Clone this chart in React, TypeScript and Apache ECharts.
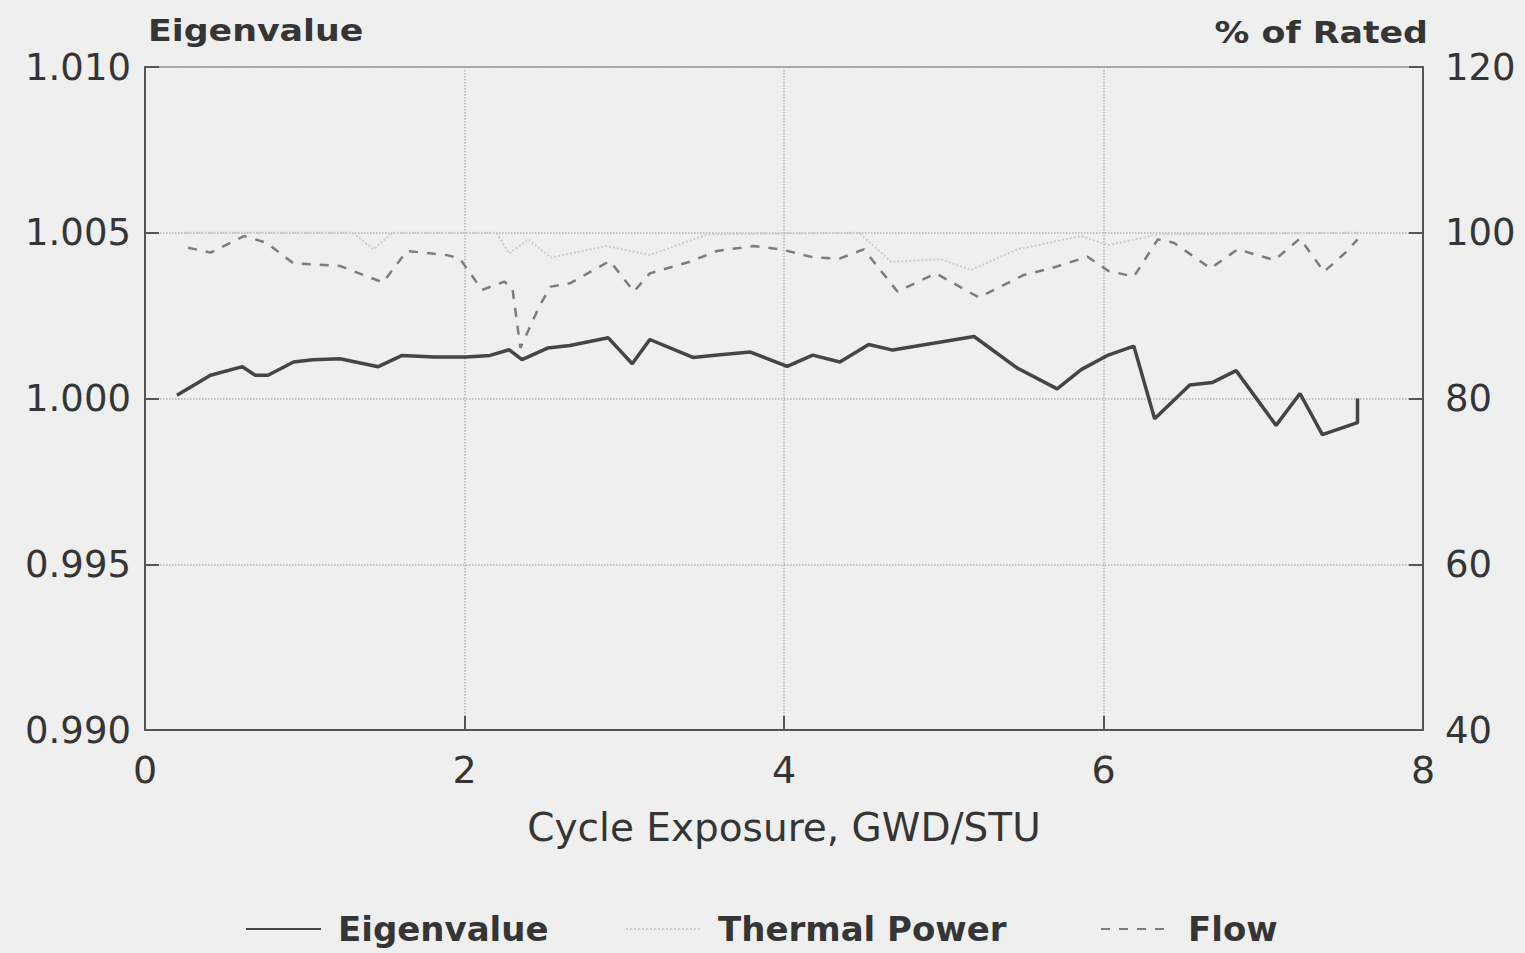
import { useEffect, useRef } from "react";
import * as echarts from "echarts";

// Cycle exposure (GWD/STU) and core eigenvalue
const exposureEigen = [
  0.2, 0.41, 0.61, 0.69, 0.77, 0.93, 1.05, 1.22, 1.46, 1.61, 1.81, 2.01, 2.16, 2.28, 2.36,
  2.52, 2.66, 2.9, 3.05, 3.16, 3.43, 3.6, 3.79, 4.02, 4.18, 4.35, 4.53, 4.68, 5.19, 5.46,
  5.71, 5.86, 6.03, 6.19, 6.32, 6.54, 6.68, 6.83, 7.08, 7.23, 7.37, 7.59, 7.59,
];
const eigenvalue = [
  1.0001, 1.0007, 1.00096, 1.0007, 1.0007, 1.0011, 1.00117, 1.0012, 1.00096, 1.0013, 1.00125,
  1.00125, 1.0013, 1.00147, 1.00117, 1.00152, 1.0016, 1.00183, 1.00105, 1.00178, 1.00124,
  1.00132, 1.0014, 1.00097, 1.00131, 1.0011, 1.00163, 1.00146, 1.00187, 1.00092, 1.00029,
  1.00087, 1.00131, 1.00158, 0.99939, 1.00041, 1.00048, 1.00084, 0.99919, 1.00015, 0.99891,
  0.99927, 1.0,
];

// Thermal power, % of rated
const exposurePower = [
  0.25, 1.3, 1.43, 1.55, 2.2, 2.28, 2.4, 2.54, 2.89, 3.16, 3.52, 4.47, 4.67, 4.98, 5.17, 5.46,
  5.86, 6.03, 6.34, 7.59,
];
const thermalPower = [
  100, 100, 98, 100, 100, 97.5, 99.2, 97, 98.4, 97.3, 99.8, 100, 96.5, 96.8, 95.5, 98, 99.6,
  98.5, 99.8, 100,
];

// Core flow, % of rated
const exposureFlow = [
  0.27, 0.41, 0.62, 0.76, 0.93, 1.22, 1.49, 1.58, 1.64, 1.89, 1.97, 2.11, 2.25, 2.3, 2.35, 2.47,
  2.54, 2.66, 2.79, 2.91, 3.06, 3.16, 3.41, 3.58, 3.81, 3.98, 4.19, 4.35, 4.5, 4.71, 4.95, 5.22,
  5.5, 5.67, 5.9, 6.03, 6.19, 6.34, 6.44, 6.67, 6.84, 7.07, 7.23, 7.38, 7.52, 7.59,
];
const flow = [
  98.2, 97.6, 99.6, 98.8, 96.3, 96.0, 94.0, 96.3, 97.8, 97.3, 96.9, 93.1, 94.1, 93.3, 86.1, 91.2,
  93.5, 93.9, 95.3, 96.6, 92.9, 95.1, 96.5, 97.8, 98.4, 98.0, 97.0, 96.9, 98.0, 92.9, 95.1, 92.2,
  94.9, 95.7, 97.1, 95.4, 94.7, 99.2, 98.8, 95.7, 98.0, 96.7, 99.3, 95.3, 97.7, 99.2,
];

// Axis ranges and steps
const exposureRange = [0, 8];
const exposureStep = 2;
const eigenRange = [0.99, 1.01];
const eigenStep = 0.005;
const ratedRange = [40, 120];
const ratedStep = 20;

const seriesNames = ["Eigenvalue", "Thermal Power", "Flow"];

const pairs = (xs: number[], ys: number[]) => xs.map((x, i) => [x, ys[i]]);

export default function App() {
  const ref = useRef<HTMLDivElement>(null);

  useEffect(() => {
    if (!ref.current) return;
    const chart = echarts.init(ref.current, null, { renderer: "svg" });
    const font = "DejaVu Sans";
    const ink = "#353535";
    const axisColor = "#555555";
    const gridDots = { type: "dotted" as const, color: "#b4b4b4", width: 1.5 };

    const legendBase = {
      top: 912,
      padding: 0,
      itemHeight: 14,
      itemStyle: { opacity: 0 },
      textStyle: {
        fontFamily: font,
        fontWeight: "bold" as const,
        fontSize: 34,
        color: ink,
        padding: [0, 0, 0, 12],
      },
      selectedMode: false,
    };

    chart.setOption({
      animation: false,
      backgroundColor: "#efefef",
      grid: {
        left: 145,
        right: 102,
        top: 67,
        bottom: 223,
        show: true,
        borderColor: "#8a8a8a",
        borderWidth: 1.5,
        backgroundColor: "transparent",
      },
      xAxis: {
        type: "value",
        min: exposureRange[0],
        max: exposureRange[1],
        interval: exposureStep,
        axisLine: { show: true, lineStyle: { color: axisColor, width: 2 } },
        axisTick: { show: true, inside: true, length: 14, lineStyle: { color: axisColor, width: 2 } },
        axisLabel: { fontFamily: font, fontSize: 38, color: ink, margin: 21 },
        splitLine: { show: true, lineStyle: gridDots },
        name: "Cycle Exposure, GWD/STU",
        nameLocation: "middle",
        nameGap: 78,
        nameTextStyle: { fontFamily: font, fontSize: 39, color: ink },
      },
      yAxis: [
        {
          type: "value",
          position: "left",
          min: eigenRange[0],
          max: eigenRange[1],
          interval: eigenStep,
          axisLine: { show: true, lineStyle: { color: axisColor, width: 2 } },
          axisTick: { show: true, inside: true, length: 14, lineStyle: { color: axisColor, width: 2 } },
          axisLabel: {
            fontFamily: font,
            fontSize: 37,
            color: ink,
            margin: 14,
            formatter: (v: number) => v.toFixed(3),
          },
          splitLine: { show: true, lineStyle: gridDots },
        },
        {
          type: "value",
          position: "right",
          min: ratedRange[0],
          max: ratedRange[1],
          interval: ratedStep,
          axisLine: { show: true, lineStyle: { color: axisColor, width: 2 } },
          axisTick: { show: true, inside: true, length: 14, lineStyle: { color: axisColor, width: 2 } },
          axisLabel: { fontFamily: font, fontSize: 37, color: ink, margin: 22 },
          splitLine: { show: false },
        },
      ],
      legend: [
        { ...legendBase, left: 245, itemWidth: 75, data: [seriesNames[0]] },
        { ...legendBase, left: 625, itemWidth: 75, data: [seriesNames[1]] },
        { ...legendBase, left: 1100, itemWidth: 70, data: [seriesNames[2]] },
      ],
      graphic: [
        {
          type: "text",
          x: 148,
          y: 31,
          scaleX: 1.16,
          style: {
            text: "Eigenvalue",
            x: 0,
            y: 0,
            textAlign: "left",
            textVerticalAlign: "middle",
            font: `bold 30px "${font}"`,
            fill: ink,
          },
        },
        {
          type: "text",
          x: 1428,
          y: 33,
          scaleX: 1.16,
          style: {
            text: "% of Rated",
            x: 0,
            y: 0,
            textAlign: "right",
            textVerticalAlign: "middle",
            font: `bold 30px "${font}"`,
            fill: ink,
          },
        },
      ],
      series: [
        {
          name: seriesNames[0],
          type: "line",
          yAxisIndex: 0,
          data: pairs(exposureEigen, eigenvalue),
          symbol: "none",
          lineStyle: { color: "#454545", width: 3.5 },
          itemStyle: { color: "#454545" },
          z: 4,
        },
        {
          name: seriesNames[1],
          type: "line",
          yAxisIndex: 1,
          data: pairs(exposurePower, thermalPower),
          symbol: "none",
          lineStyle: { color: "#cdcdcd", width: 2, type: "dotted" },
          itemStyle: { color: "#cdcdcd" },
          z: 2,
        },
        {
          name: seriesNames[2],
          type: "line",
          yAxisIndex: 1,
          data: pairs(exposureFlow, flow),
          symbol: "none",
          lineStyle: { color: "#7c7c7c", width: 2.5, type: [9, 9] },
          itemStyle: { color: "#7c7c7c" },
          z: 3,
        },
      ],
    });

    return () => chart.dispose();
  }, []);

  return (
    <div
      ref={ref}
      style={{ position: "fixed", left: 0, top: 0, width: 1525, height: 953 }}
    />
  );
}
